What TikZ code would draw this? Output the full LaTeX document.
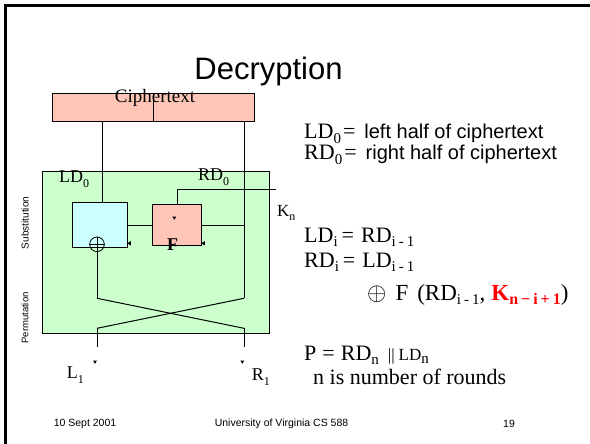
\documentclass[tikz,border=0pt]{standalone}
\usepackage{fontspec}
\setmainfont{Liberation Serif}
\setsansfont{Liberation Sans}
\newcommand{\sbs}[1]{\raisebox{-0.2em}{\fontsize{15}{15}\selectfont #1}}
\newcommand{\bsbs}[1]{\raisebox{-0.2em}{\fontsize{16}{16}\selectfont #1}}
\newcommand{\ssbs}[1]{\raisebox{-0.28em}{\fontsize{12}{12}\selectfont #1}}
\newcommand{\sm}{\hspace{3pt}-\hspace{3pt}}
\definecolor{salmon}{HTML}{FFC6B8}
\definecolor{lgreen}{HTML}{CCFFCC}
\definecolor{lcyan}{HTML}{CCFFFF}
\tikzset{
  boxst/.style={draw, line width=1pt, inner sep=0pt, anchor=north west},
  wire/.style={line width=1pt},
  lbl/.style={inner sep=0pt, anchor=base west, font=\fontsize{18}{20}\selectfont},
  txt/.style={inner sep=0pt, anchor=base west, font=\fontsize{22}{24}\selectfont},
  foot/.style={inner sep=0pt, font=\sffamily\fontsize{10.5}{12}\selectfont},
}
\newcommand{\tridown}[2]{\fill (#1-2,#2-1.5) -- (#1+2,#2-1.5) -- (#1,#2+1.8) -- cycle;}
\newcommand{\trileft}[2]{\fill (#1+1.5,#2-2.2) -- (#1+1.5,#2+2.2) -- (#1-2,#2) -- cycle;}
\begin{document}
\begin{tikzpicture}[x=1pt,y=-1pt]
\useasboundingbox (0,0) rectangle (590,444);
% slide frame
\coordinate (fbl) at (5.5,444);
\coordinate (ftl) at (5.5,5.5);
\coordinate (ftr) at (590,5.5);
\draw[line width=2.2pt, black] (fbl) -- (ftl) -- (ftr);
% title
\node[inner sep=0pt, anchor=base, font=\sffamily\fontsize{31}{36}\selectfont] (title) at (268.5,80) {Decryption};
% green round box
\node[boxst, fill=lgreen, minimum width=226.4pt, minimum height=162pt] (grn) at (42.3,170.7) {};
% ciphertext box
\node[boxst, fill=salmon, minimum width=202pt, minimum height=28pt] (ct) at (52,92.7) {};
\draw[wire] (ct.north) -- (ct.south);
\node[inner sep=0pt, anchor=base, font=\fontsize{19}{22}\selectfont] (ctl) at (155,102.7) {Ciphertext};
% blue box and F box
\node[boxst, fill=lcyan, minimum width=54.7pt, minimum height=44.4pt] (blue) at (72,202.3) {};
\node[boxst, fill=salmon, minimum width=48.4pt, minimum height=40.4pt] (fbox) at (152.3,204.3) {};
\node[circle, draw, line width=0.8pt, minimum size=14.6pt, inner sep=0pt] (xor) at (97,244.3) {};
\draw[line width=0.8pt] (xor.north) -- (xor.south) (xor.west) -- (xor.east);
% coordinates
\coordinate (xl) at (102.3,0);
\coordinate (xr) at (244,0);
\coordinate (c1) at (97,298.3);
\coordinate (c2) at (244,298.3);
\coordinate (c3) at (97,328.3);
\coordinate (c4) at (244,328.3);
\coordinate (o1) at (97,346.7);
\coordinate (o2) at (244,346.7);
\coordinate (kend) at (276,189);
% wires
\draw[wire] (ct.south -| xl) -- (blue.north -| xl);
\draw[wire] (ct.south -| xr) -- (c2);
\draw[wire] (blue.east) -- (fbox.west);
\draw[wire] (fbox.east) -- (fbox.east -| xr);
\draw[wire] (fbox.north) |- (kend);
\draw[wire] (xor.south) -- (c1);
\draw[wire] (c1) -- (c4);
\draw[wire] (c2) -- (c3);
\draw[wire] (c3) -- (o1);
\draw[wire] (c4) -- (o2);
% little arrow heads
\tridown{95}{362}
\tridown{242.3}{362}
\tridown{174.3}{218}
\trileft{129.3}{243.3}
\trileft{203.3}{243.3}
% box labels
\node[inner sep=0pt, anchor=base, font=\bfseries\fontsize{18}{20}\selectfont] (fl) at (172.7,250) {F};
\node[lbl] (ld0) at (59,182.5) {LD\ssbs{0}};
\node[lbl] (rd0) at (198,180.5) {RD\ssbs{0}};
\node[lbl, font=\fontsize{17}{20}\selectfont] (kn) at (277,216) {K\ssbs{n}};
\node[lbl] (l1) at (66.7,378) {L\ssbs{1}};
\node[lbl] (r1) at (251.7,380) {R\ssbs{1}};
% side labels
\node[inner sep=0pt, rotate=90, font=\sffamily\fontsize{10}{12}\selectfont] (sub) at (25,223) {Substitution};
\node[inner sep=0pt, rotate=90, font=\sffamily\fontsize{9.5}{12}\selectfont] (perm) at (25,318) {Permutation};
% right text
\node[txt] (t1) at (304,139) {LD\sbs{0}\hspace{2pt}=\hspace{9pt}{\sffamily\fontsize{20}{24}\selectfont left half of ciphertext}};
\node[txt] (t2) at (304,160) {RD\sbs{0}\hspace{2pt}=\hspace{9pt}{\sffamily\fontsize{20}{24}\selectfont right half of ciphertext}};
\node[txt] (t3) at (304,242) {LD\sbs{i}\hspace{4pt}=\hspace{7pt}RD\sbs{i\sm1}};
\node[txt] (t4) at (304,267) {RD\sbs{i}\hspace{4pt}=\hspace{7pt}LD\sbs{i\sm1}};
\node[txt, font=\fontsize{23}{26}\selectfont] (t5) at (367,300) {$\oplus$\hspace{9pt}F\hspace{9pt}(RD\sbs{i\sm1},\hspace{6pt}{\color{red}\bfseries K\bsbs{\bfseries n\hspace{3pt}−\hspace{3pt}i\hspace{3pt}+\hspace{3pt}1}})};
\node[txt] (t6) at (304,360) {P\hspace{6pt}=\hspace{6pt}RD\sbs{n}\hspace{9pt}{\fontsize{17}{18}\selectfont ||\hspace{4pt}LD\sbs{n}}};
\node[txt] (t7) at (313,384) {n is number of rounds};
% footer
\node[foot] (f1) at (85,424) {10 Sept 2001};
\node[foot] (f2) at (281.5,424) {University of Virginia CS 588};
\node[foot] (f3) at (509,424) {19};
\end{tikzpicture}
\end{document}
